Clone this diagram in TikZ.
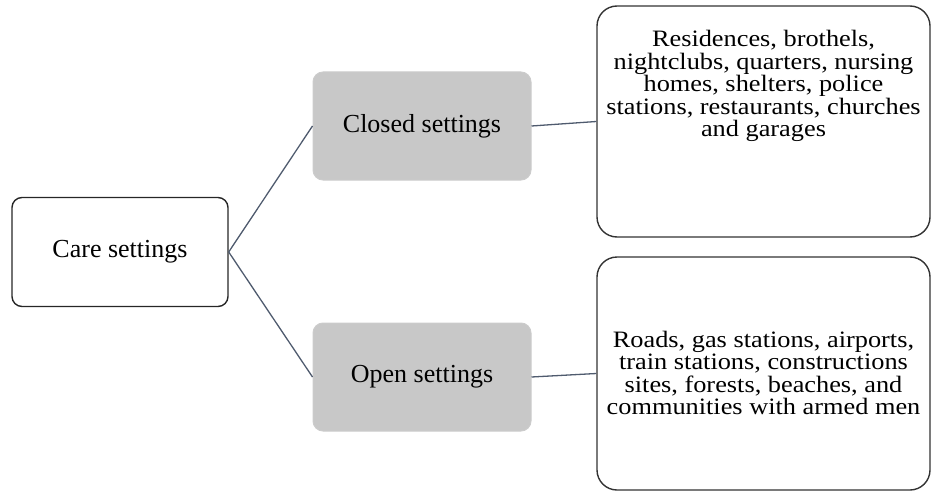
\documentclass[tikz,border=0pt]{standalone}
\usepackage{fontspec}
\setmainfont{Liberation Serif}
\newfontfamily\widefont{Liberation Serif}[FakeStretch=1.12]
\usepackage{xcolor}
\usetikzlibrary{positioning}
\definecolor{linkgray}{HTML}{4F5B6E}
\definecolor{boxgray}{HTML}{C8C8C8}
\tikzset{
  rootbox/.style={draw=black!85, line width=1.4pt, rounded corners=10pt,
    minimum width=216pt, minimum height=109pt, align=center,
    font=\fontsize{26}{30}\selectfont},
  kindbox/.style={draw=black!20, fill=boxgray, line width=1pt, rounded corners=10pt,
    minimum width=218pt, minimum height=108pt, align=center,
    font=\fontsize{26}{30}\selectfont},
  placebox/.style={draw=black!80, line width=1.4pt, rounded corners=20pt,
    minimum width=333pt},
  placetext/.style={align=center, inner sep=0pt,
    font=\widefont\fontsize{23.5}{22.5}\selectfont},
  link/.style={draw=linkgray, line width=1.3pt}
}

\begin{document}
\begin{tikzpicture}[x=1pt,y=-1pt]
    \useasboundingbox (0,0) rectangle (931,492);
    \node[rootbox] (care) at (120,252) {Care settings};
    \node[kindbox] (closed) at (422,126) {Closed settings};
    \node[kindbox] (open) at (422,377) {Open settings};
    \node[placebox, minimum height=231pt] (closedplaces) at (763.5,121.5) {};
    \node[placebox, minimum height=233pt] (openplaces) at (763.5,373.5) {};
    \node[placetext] (closedlist) at (763.5,86)
        {Residences, brothels,\\nightclubs, quarters, nursing\\homes, shelters, police\\stations, restaurants, churches\\and garages};
    \node[placetext] (openlist) at (763.5,373)
        {Roads, gas stations, airports,\\train stations, constructions\\sites, forests, beaches, and\\communities with armed men};

    \draw[link] (care.east) -- (closed.west);
    \draw[link] (care.east) -- (open.west);
    \draw[link] (closed.east) -- (closedplaces.west);
    \draw[link] (open.east) -- (openplaces.west);
\end{tikzpicture}
\end{document}
